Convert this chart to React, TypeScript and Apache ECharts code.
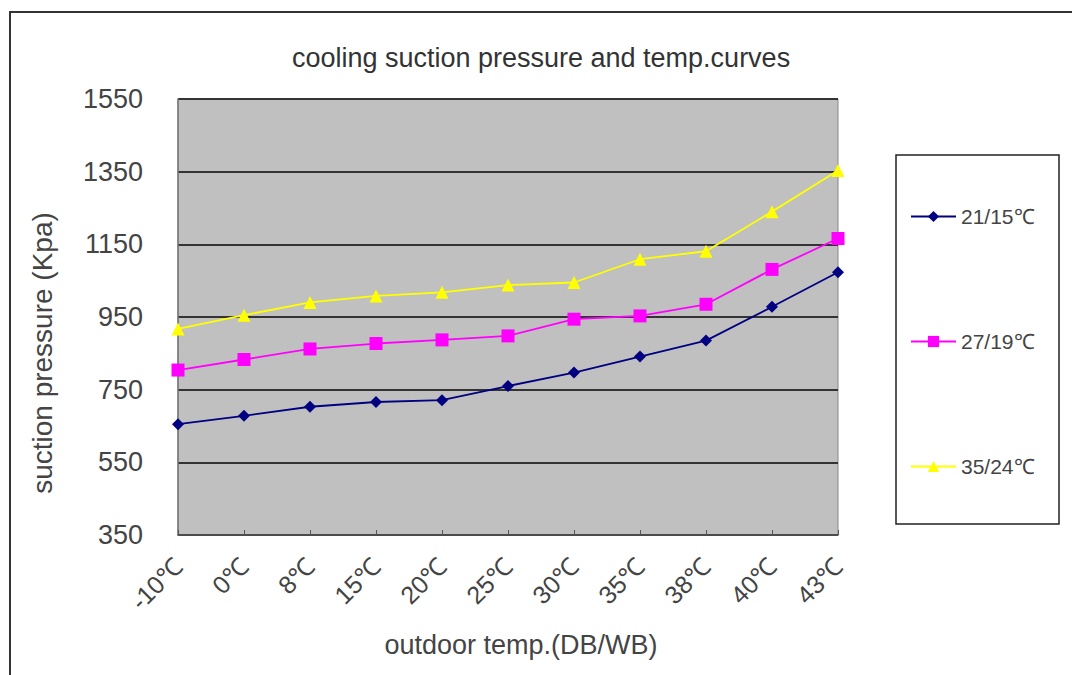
import React, { useEffect, useRef } from "react";
import * as echarts from "echarts";

const categories = ["-10℃", "0℃", "8℃", "15℃", "20℃", "25℃", "30℃", "35℃", "38℃", "40℃", "43℃"];
const series21 = [655, 678, 703, 716, 721, 760, 797, 841, 885, 978, 1073];
const series27 = [804, 833, 862, 877, 887, 898, 944, 953, 985, 1081, 1166];
const series35 = [917, 955, 990, 1008, 1018, 1038, 1045, 1109, 1131, 1240, 1353];
const yTicks = { min: 350, max: 1550, interval: 200 };

const FONT = "Liberation Sans, Arial, sans-serif";

export default function App() {
  const ref = useRef<HTMLDivElement>(null);
  useEffect(() => {
    const chart = echarts.init(ref.current!, undefined, { renderer: "svg" });
    chart.setOption({
      animation: false,
      backgroundColor: "#ffffff",
      textStyle: { fontFamily: FONT },
      title: {
        text: "cooling suction pressure and temp.curves",
        left: 536,
        top: 39,
        textAlign: "center",
        textStyle: { fontSize: 27, fontWeight: "normal", color: "#333", fontFamily: FONT },
      },
      graphic: [
        {
          type: "rect",
          shape: { x: 10, y: 12, width: 1080, height: 700 },
          style: { fill: "none", stroke: "#333", lineWidth: 2 },
          silent: true,
        },
        {
          type: "rect",
          shape: { x: 896, y: 155, width: 163, height: 369 },
          style: { fill: "#fff", stroke: "#222", lineWidth: 1.5 },
          silent: true,
          z: -1,
        },
      ],
      legend: {
        orient: "vertical",
        left: 910,
        top: 206,
        padding: 0,
        itemWidth: 45,
        itemHeight: 14,
        itemGap: 104,
        textStyle: { fontSize: 21, color: "#444", fontFamily: FONT },
        data: ["21/15℃", "27/19℃", "35/24℃"],
      },
      grid: {
        left: 178,
        top: 99,
        width: 660,
        height: 436,
        show: true,
        backgroundColor: "#c0c0c0",
        borderColor: "#888",
        borderWidth: 1,
      },
      xAxis: {
        type: "category",
        data: categories,
        boundaryGap: false,
        name: "outdoor temp.(DB/WB)",
        nameLocation: "middle",
        nameGap: 96,
        nameTextStyle: { fontSize: 27, color: "#444", fontFamily: FONT, padding: [0, 0, 0, 26] },
        axisLine: { lineStyle: { color: "#555", width: 1.5 } },
        axisTick: { show: true, inside: true, length: 5, alignWithLabel: true, lineStyle: { color: "#555" } },
        axisLabel: { rotate: 45, fontSize: 25, color: "#444", margin: 27, fontFamily: FONT, interval: 0 },
        splitLine: { show: false },
      },
      yAxis: {
        type: "value",
        min: yTicks.min,
        max: yTicks.max,
        interval: yTicks.interval,
        name: "suction pressure (Kpa)",
        nameLocation: "middle",
        nameGap: 122,
        nameRotate: 90,
        nameTextStyle: { fontSize: 28, color: "#444", fontFamily: FONT, padding: [0, 72, 0, 0] },
        axisLine: { show: true, lineStyle: { color: "#777", width: 1.5 } },
        axisTick: { show: false },
        axisLabel: {
          fontSize: 27,
          color: "#444",
          margin: 35,
          fontFamily: FONT,
          formatter: (v: number) => String(v),
        },
        splitLine: { show: true, lineStyle: { color: "#333", width: 2 } },
      },
      series: [
        {
          name: "21/15℃",
          type: "line",
          data: series21,
          symbol: "diamond",
          symbolSize: 12,
          color: "#000080",
          lineStyle: { color: "#000080", width: 1.8 },
          itemStyle: { color: "#000080" },
        },
        {
          name: "27/19℃",
          type: "line",
          data: series27,
          symbol: "rect",
          symbolSize: 13,
          color: "#ff00ff",
          lineStyle: { color: "#ff00ff", width: 1.8 },
          itemStyle: { color: "#ff00ff" },
        },
        {
          name: "35/24℃",
          type: "line",
          data: series35,
          symbol: "triangle",
          symbolSize: 13,
          color: "#ffff00",
          lineStyle: { color: "#ffff00", width: 1.8 },
          itemStyle: { color: "#ffff00" },
        },
      ],
    });
    return () => chart.dispose();
  }, []);
  return (
    <div
      ref={ref}
      style={{ position: "fixed", left: 0, top: 0, width: 1072, height: 675 }}
    />
  );
}
